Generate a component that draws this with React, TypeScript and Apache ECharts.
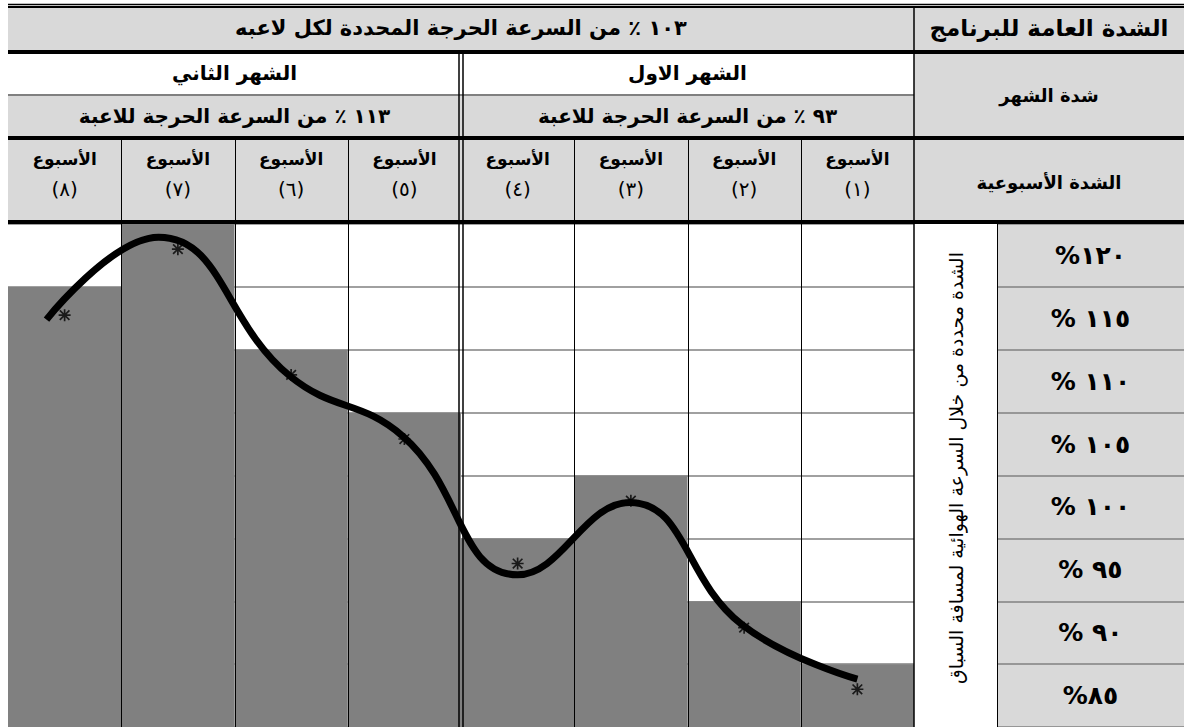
import React, { useEffect, useRef } from "react";
import * as echarts from "echarts";

// ---------------- data ----------------
const programTitle = "الشدة العامة للبرنامج";
const programIntensity = "١٠٣ ٪ من السرعة الحرجة المحددة لكل لاعبه";
const monthHeader = "شدة الشهر";
const weeklyHeader = "الشدة الأسبوعية";
const months = ["الشهر الاول", "الشهر الثاني"];
const monthIntensity = ["٩٣ ٪ من السرعة الحرجة للاعبة", "١١٣ ٪ من السرعة الحرجة للاعبة"];
const weekWord = "الأسبوع";
const weekNumbers = ["(١)", "(٢)", "(٣)", "(٤)", "(٥)", "(٦)", "(٧)", "(٨)"];
const levels = [85, 90, 95, 100, 105, 110, 115, 120];
const levelLabels = ["%٨٥", "% ٩٠", "% ٩٥", "% ١٠٠", "% ١٠٥", "% ١١٠", "% ١١٥", "%١٢٠"];
const sideNote = "الشدة محددة من خلال السرعة الهوائية لمسافة السباق";
// weekly intensity (%) for weeks 1..8
const weeklyIntensity = [85, 90, 100, 95, 105, 110, 120, 115];
// star markers (in row units) for weeks 1..8
const markerRows = [0.6, 1.58, 3.6, 2.6, 4.58, 5.6, 7.6, 6.55];
// smoothed curve points [week position, row units]
const curvePoints = [
  [0.5, 0.76],
  [1.52, 1.63],
  [2.51, 3.57],
  [3.5, 2.42],
  [4.51, 4.62],
  [5.51, 5.58],
  [6.67, 7.79],
  [7.66, 6.48],
];

// ---------------- layout ----------------
const L = 8;
const CR = 914;
const LBL = 997;
const RIGHT = 1184;
const CT = 224;
const CH = 508;
const colW = (CR - L) / 8;
const FONT = "DejaVu Sans";

const starPath =
  "path://M0,4.3L10,4.3L10,5.7L0,5.7ZM4.3,0L5.7,0L5.7,10L4.3,10ZM0.5,1.5L1.5,0.5L9.5,8.5L8.5,9.5ZM8.5,0.5L9.5,1.5L1.5,9.5L0.5,8.5Z";

function hLine(y: number, x1: number, x2: number, w: number, c = "#000") {
  return { type: "line", z: 100, silent: true, shape: { x1, y1: y, x2, y2: y }, style: { stroke: c, lineWidth: w } };
}
function vLine(x: number, y1: number, y2: number, w: number, c = "#000") {
  return { type: "line", z: 100, silent: true, shape: { x1: x, y1, x2: x, y2 }, style: { stroke: c, lineWidth: w } };
}
function rect(x: number, y: number, width: number, height: number, fill: string) {
  return { type: "rect", z: 1, silent: true, shape: { x, y, width, height }, style: { fill } };
}
function txt(text: string, x: number, y: number, size: number, weight = "bold", rotation = 0) {
  return {
    type: "text",
    z: 101,
    silent: true,
    x,
    y,
    rotation,
    style: {
      text,
      fill: "#000",
      font: `${weight} ${size}px "${FONT}"`,
      fontFamily: FONT,
      fontSize: size,
      fontWeight: weight,
      textAlign: "center",
      textVerticalAlign: "middle",
    },
  };
}

export default function App() {
  const ref = useRef<HTMLDivElement>(null);
  useEffect(() => {
    document.body.style.margin = "0";
    document.body.style.overflow = "hidden";
    if (!ref.current) return;
    const chart = echarts.init(ref.current, undefined, { renderer: "svg" });

    const barHeights = weeklyIntensity.map((v) => levels.indexOf(v) + 1);
    const weekIds = weekNumbers.map((_, i) => String(i + 1));

    const graphic: any[] = [];
    // backgrounds
    graphic.push(rect(L, 8, RIGHT - L, 42, "#d9d9d9"));
    graphic.push(rect(L, 95, CR - L, 41, "#d9d9d9"));
    graphic.push(rect(CR, 54, RIGHT - CR, 82, "#d9d9d9"));
    graphic.push(rect(L, 140, RIGHT - L, 80, "#d9d9d9"));
    // horizontal rules
    graphic.push(hLine(4.5, L, RIGHT, 1.3));
    graphic.push(hLine(7, L, RIGHT, 2));
    graphic.push(hLine(52, L, RIGHT, 4));
    graphic.push(hLine(138, L, RIGHT, 4));
    graphic.push(hLine(222, L, RIGHT, 4));
    graphic.push(hLine(95, L, CR, 2, "#808080"));
    // vertical rules
    graphic.push(vLine(CR, 8, 727, 1.5));
    const mid = L + 4 * colW;
    graphic.push(vLine(mid - 2, 54, 727, 1.5));
    graphic.push(vLine(mid + 2, 54, 727, 1.5));
    for (const k of [1, 2, 3, 5, 6, 7]) {
      const x = Math.round(L + k * colW) + 0.5;
      graphic.push(vLine(x, 140, 727, 1));
    }
    graphic.push(vLine(LBL + 0.5, CT, 727, 1));

    // texts
    graphic.push(txt(programTitle, (CR + RIGHT) / 2, 28, 23));
    graphic.push(txt(programIntensity, (L + CR) / 2, 28, 21));
    // month 1 on right half, month 2 on left half
    graphic.push(txt(months[0], (mid + CR) / 2, 73, 20));
    graphic.push(txt(months[1], (L + mid) / 2, 73, 20));
    graphic.push(txt(monthIntensity[0], (mid + CR) / 2, 116, 20));
    graphic.push(txt(monthIntensity[1], (L + mid) / 2, 116, 20));
    graphic.push(txt(monthHeader, (CR + RIGHT) / 2, 95, 18));
    graphic.push(txt(weeklyHeader, (CR + RIGHT) / 2, 182, 18));
    weekNumbers.forEach((wn, i) => {
      const cx = CR - (i + 0.5) * colW;
      graphic.push(txt(weekWord, cx, 159, 17));
      graphic.push(txt(wn, cx, 189, 20, "normal"));
    });
    graphic.push(txt(sideNote, (CR + LBL) / 2, 468, 19, "normal", Math.PI / 2));

    const option: any = {
      animation: false,
      backgroundColor: "#ffffff",
      grid: [
        { left: L, top: CT, width: CR - L, height: CH, show: false },
        { left: LBL, top: CT, width: RIGHT - LBL, height: CH, show: true, backgroundColor: "#d9d9d9", borderWidth: 0 },
      ],
      xAxis: [
        {
          type: "category",
          gridIndex: 0,
          data: weekIds,
          inverse: true,
          axisLine: { show: false },
          axisTick: { show: false },
          axisLabel: { show: false },
          splitLine: { show: false },
        },
        { type: "value", gridIndex: 0, min: 0, max: 8, inverse: true, show: false },
        { type: "value", gridIndex: 1, min: 0, max: 1, show: false },
      ],
      yAxis: [
        {
          type: "value",
          gridIndex: 0,
          min: 0,
          max: 8,
          interval: 1,
          axisLine: { show: false },
          axisTick: { show: false },
          axisLabel: { show: false },
          splitLine: { show: true, lineStyle: { color: "#808080", width: 1.5 } },
        },
        {
          type: "category",
          gridIndex: 1,
          data: levelLabels,
          axisLine: { show: false },
          axisTick: { show: false },
          axisLabel: {
            inside: true,
            margin: (RIGHT - LBL) / 2,
            align: "center",
            color: "#000",
            fontFamily: FONT,
            fontWeight: "bold",
            fontSize: 25,
          },
          splitLine: { show: true, lineStyle: { color: "#808080", width: 1.5 } },
        },
      ],
      series: [
        {
          type: "bar",
          xAxisIndex: 0,
          yAxisIndex: 0,
          data: barHeights,
          barWidth: "100%",
          barGap: "0%",
          itemStyle: { color: "#808080" },
          silent: true,
          z: 2,
        },
        {
          type: "line",
          xAxisIndex: 1,
          yAxisIndex: 0,
          data: curvePoints,
          smooth: 0.45,
          symbol: "none",
          lineStyle: { color: "#000", width: 7, cap: "butt" },
          silent: true,
          z: 5,
        },
        {
          type: "scatter",
          xAxisIndex: 0,
          yAxisIndex: 0,
          data: markerRows,
          symbol: starPath,
          symbolSize: 12,
          itemStyle: { color: "#000" },
          silent: true,
          z: 6,
        },
      ],
      graphic,
    };
    chart.setOption(option);
    return () => chart.dispose();
  }, []);
  return <div ref={ref} style={{ width: 1184, height: 727 }} />;
}
